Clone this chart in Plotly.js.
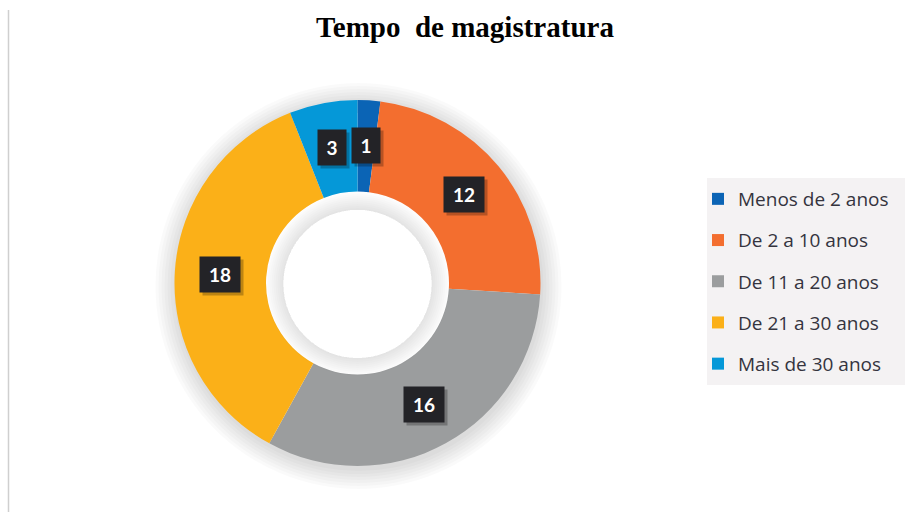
<!DOCTYPE html>
<html>
<head>
<meta charset="utf-8">
<script src="https://cdn.plot.ly/plotly-3.0.1.min.js"></script>
<style>html,body{margin:0;padding:0;background:#fff;}#chart{width:909px;height:512px;}</style>
</head>
<body>
<div id="chart"></div>
<script>
// ---- data ----
const categories = ["Menos de 2 anos", "De 2 a 10 anos", "De 11 a 20 anos", "De 21 a 30 anos", "Mais de 30 anos"];
const values = [1, 12, 16, 18, 3];
const colors = ["#0b64b5", "#f36e2f", "#9b9d9e", "#fbb018", "#0598d8"];
const titleText = "Tempo  de magistratura";

// ---- geometry (pixels) ----
const W = 909, H = 512;
const cx = 357.5, cy = 283, R = 183, holeFrac = 0.5;

function domainFor(c_x, c_y, r) {
  return { x: [(c_x - r) / W, (c_x + r) / W], y: [1 - (c_y + r) / H, 1 - (c_y - r) / H] };
}

const traces = [];
// outer soft shadow rings (drawn first, behind the donut)
const shadowSteps = [20, 17, 14, 11, 8, 5, 2];
shadowSteps.forEach(function (d) {
  const ro = R + d;
  traces.push({
    type: "pie", values: [1], labels: ["shadow" + d], sort: false,
    marker: { colors: ["rgba(0,0,0,0.02)"], line: { width: 0 } },
    domain: domainFor(cx + 1, cy + 3, ro),
    hole: (R - 10) / ro,
    textinfo: "none", hoverinfo: "skip", showlegend: false
  });
});

// main donut
traces.push({
  type: "pie",
  values: values,
  labels: categories,
  sort: false,
  direction: "clockwise",
  rotation: 0,
  hole: holeFrac,
  marker: { colors: colors, line: { width: 0 } },
  domain: domainFor(cx, cy, R),
  textinfo: "none",
  hoverinfo: "label+value",
  showlegend: false
});

// inner hole shadow: thin rings of decreasing depth for a soft gradient
const rHole = R * holeFrac;
const innerSteps = [0, 2, 4, 6, 8, 10, 12, 14, 16];
innerSteps.forEach(function (d) {
  const ro = rHole - d + 0.5;
  traces.push({
    type: "pie", values: [1], labels: ["inner" + d], sort: false,
    marker: { colors: ["rgba(0,0,0,0.013)"], line: { width: 0 } },
    domain: domainFor(cx, cy + 1, ro),
    hole: (ro - (16 - d + 2)) / ro,
    textinfo: "none", hoverinfo: "skip", showlegend: false
  });
});

// legend entries (dummy traces so the spacing can be controlled)
categories.forEach(function (name, i) {
  traces.push({
    type: "scatter", mode: "markers", x: [null], y: [null],
    name: name, legendgroup: "g" + i,
    marker: { symbol: "square", size: 12, color: colors[i] },
    hoverinfo: "skip", showlegend: true
  });
});

// value labels (dark boxes) placed at slice mid-angles
const total = values.reduce(function (a, b) { return a + b; }, 0);
const rMid = (R + rHole) / 2 + 1;
const annotations = [];
let cum = 0;
values.forEach(function (v, i) {
  const mid = (cum + v / 2) / total * 2 * Math.PI;
  cum += v;
  const px = cx + rMid * Math.sin(mid);
  const py = cy - rMid * Math.cos(mid);
  const txt = String(v);
  const w = txt.length > 1 ? 38 : 26;
  // shadow of box
  annotations.push({
    xref: "paper", yref: "paper", x: px / W, y: 1 - py / H,
    xanchor: "center", yanchor: "middle",
    xshift: 3, yshift: -3,
    text: "&nbsp;", showarrow: false, width: w, height: 33,
    bgcolor: "rgba(0,0,0,0.25)", font: { color: "rgba(0,0,0,0)", size: 19, family: "Lato" }
  });
  annotations.push({
    xref: "paper", yref: "paper", x: px / W, y: 1 - py / H,
    xanchor: "center", yanchor: "middle",
    text: txt, showarrow: false, width: w, height: 33,
    bgcolor: "#232327",
    font: { color: "#ffffff", size: 19, family: "Lato", weight: "bold" }
  });
});

const layout = {
  width: W, height: H,
  margin: { l: 0, r: 0, t: 0, b: 0 },
  paper_bgcolor: "#ffffff",
  plot_bgcolor: "rgba(0,0,0,0)",
  showlegend: true,
  title: {
    text: "<b>" + titleText + "</b>",
    x: 465 / W, xanchor: "center",
    y: 1 - 27 / H, yanchor: "middle",
    font: { family: "Liberation Serif", size: 29, color: "#000000" }
  },
  xaxis: { visible: false, domain: [0, 0.01] },
  yaxis: { visible: false, domain: [0, 0.01] },
  legend: {
    x: 698 / W, xanchor: "left",
    y: 1 - 180 / H, yanchor: "top",
    bgcolor: "rgba(0,0,0,0)",
    font: { family: "Open Sans", size: 19, color: "#34343e" },
    tracegroupgap: 13.5,
    itemclick: false, itemdoubleclick: false
  },
  shapes: [
    { type: "rect", xref: "paper", yref: "paper", layer: "below",
      x0: 707 / W, x1: 905 / W, y0: 1 - 385 / H, y1: 1 - 178 / H,
      fillcolor: "#f4f2f3", line: { width: 0 } },
    { type: "line", xref: "paper", yref: "paper", layer: "below",
      x0: 8.5 / W, x1: 8.5 / W, y0: 0, y1: 1 - 10 / H,
      line: { color: "#cfcfcf", width: 1.5 } }
  ],
  annotations: annotations
};

Plotly.newPlot("chart", traces, layout, { displayModeBar: false, staticPlot: true });
</script>
</body>
</html>
